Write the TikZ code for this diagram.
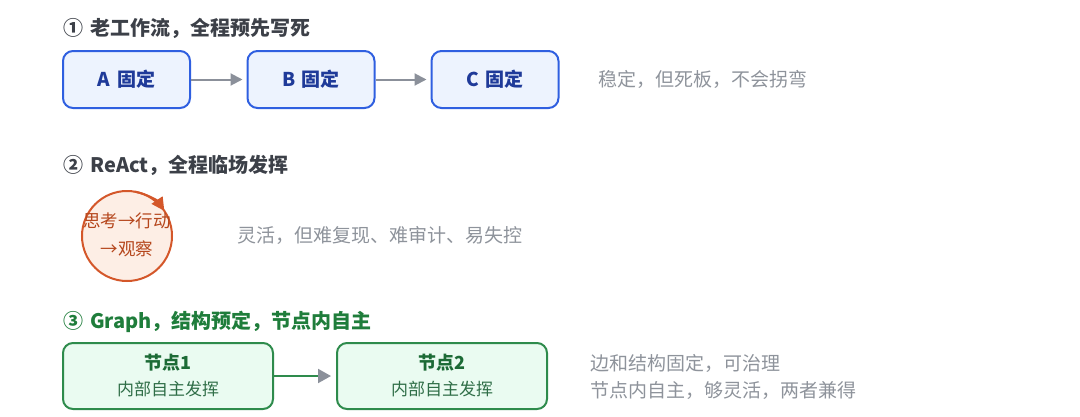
\documentclass[tikz,border=0pt]{standalone}
\usepackage{fontspec}
\setmainfont{Noto Sans CJK SC}
\usetikzlibrary{arrows.meta}
\definecolor{titlegray}{HTML}{3C4048}
\definecolor{blueline}{HTML}{2F5FE0}
\definecolor{bluefill}{HTML}{EDF3FE}
\definecolor{bluetext}{HTML}{1F3A99}
\definecolor{arrowgray}{HTML}{8B909A}
\definecolor{notegray}{HTML}{8E939B}
\definecolor{orangeline}{HTML}{D4572A}
\definecolor{orangefill}{HTML}{FDEEE5}
\definecolor{orangetext}{HTML}{B5461C}
\definecolor{greentitle}{HTML}{1F7D3B}
\definecolor{greenline}{HTML}{2E8B4C}
\definecolor{greenfill}{HTML}{EAFBF1}
\definecolor{greentext}{HTML}{1C6B36}
\definecolor{greensub}{HTML}{2F6E47}
\newcommand{\gapsp}{\hspace{0.35em}}
\tikzset{
  sectitle/.style={anchor=west, inner sep=0pt, font=\fontsize{20}{24}\selectfont\bfseries},
  note/.style={anchor=west, inner sep=0pt, text=notegray, font=\fontsize{19}{23}\selectfont},
  fixbox/.style={draw=blueline, fill=bluefill, line width=2pt, rounded corners=10pt,
    minimum width=127pt, minimum height=57pt, text=bluetext,
    font=\fontsize{19}{22}\selectfont\bfseries},
  gnode/.style={draw=greenline, fill=greenfill, line width=2pt, rounded corners=10pt,
    minimum width=210pt, minimum height=66pt, align=center, text=greentext,
    font=\fontsize{17}{26}\selectfont},
  garrow/.style={draw=arrowgray, line width=2pt, -{Triangle[length=12pt,width=12pt]}, shorten >=4pt},
  greenarrow/.style={draw=greenline, line width=2pt, -{Triangle[length=13pt,width=14pt,color=arrowgray]}, shorten >=5pt},
}
\begin{document}
\begin{tikzpicture}[x=1pt,y=1pt]
\useasboundingbox (0,0) rectangle (1080,-416);
% section 1
\node[sectitle, text=titlegray] (t1) at (63,-28) {①\gapsp 老工作流，全程预先写死};
\node[fixbox] (A) at (126.5,-79.5) {A\gapsp 固定};
\node[fixbox] (B) at (311,-79.5) {B\gapsp 固定};
\node[fixbox] (C) at (495,-79.5) {C\gapsp 固定};
\draw[garrow] (A) -- (B);
\draw[garrow] (B) -- (C);
\node[note] (n1) at (598,-79) {稳定，但死板，不会拐弯};
% section 2
\node[sectitle, text=titlegray] (t2) at (63,-165) {②\gapsp ReAct，全程临场发挥};
\node[circle, draw=orangeline, fill=orangefill, line width=2pt, minimum size=90pt, inner sep=0pt] (loop) at (127,-236) {};
\draw[orangeline, line width=2pt, -{Triangle[length=13pt,width=13pt]}] ([shift={(127,-236)}]80:45) arc[start angle=80, end angle=34, radius=45];
\node[align=center, text=orangetext, inner sep=0pt, font=\fontsize{17.5}{28}\selectfont] (lt) at (127,-235) {思考→行动\\→观察};
\node[note] (n2) at (237,-235) {灵活，但难复现、难审计、易失控};
% section 3
\node[sectitle, text=greentitle] (t3) at (63,-322) {③\gapsp Graph，结构预定，节点内自主};
\node[gnode] (N1) at (168,-376) {{\fontsize{18}{26}\selectfont\bfseries 节点1}\\{\color{greensub}内部自主发挥}};
\node[gnode] (N2) at (442,-376) {{\fontsize{18}{26}\selectfont\bfseries 节点2}\\{\color{greensub}内部自主发挥}};
\draw[greenarrow] (N1) -- (N2);
\node[note, align=left, font=\fontsize{19}{27}\selectfont] (n3) at (590,-376.5) {边和结构固定，可治理\\节点内自主，够灵活，两者兼得};
\end{tikzpicture}
\end{document}
